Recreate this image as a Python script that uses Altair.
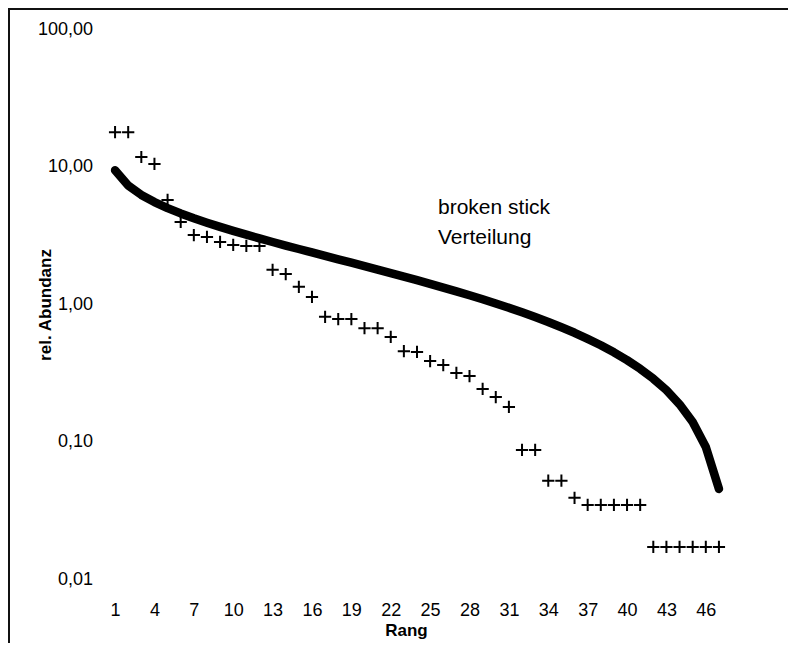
import altair as alt
import pandas as pd

ranks = list(range(1, 48))
abundance = [17.9, 17.9, 11.8, 10.5, 5.74, 3.97, 3.19, 3.09, 2.84, 2.70, 2.66, 2.66,
             1.78, 1.66, 1.34, 1.13, 0.81, 0.78, 0.78, 0.67, 0.67, 0.578, 0.455, 0.45,
             0.386, 0.361, 0.316, 0.30, 0.242, 0.211, 0.179, 0.087, 0.087, 0.052, 0.052,
             0.039, 0.0346, 0.0346, 0.0346, 0.0346, 0.0346,
             0.0171, 0.0171, 0.0171, 0.0171, 0.0171, 0.0171]
broken_stick = [9.443, 7.315, 6.251, 5.542, 5.010, 4.584, 4.230, 3.926, 3.660, 3.423,
                3.211, 3.017, 2.840, 2.676, 2.524, 2.382, 2.249, 2.124, 2.006, 1.894,
                1.788, 1.686, 1.590, 1.497, 1.409, 1.323, 1.242, 1.163, 1.087, 1.013,
                0.943, 0.874, 0.807, 0.743, 0.680, 0.620, 0.560, 0.503, 0.447, 0.392,
                0.339, 0.287, 0.237, 0.187, 0.139, 0.0915, 0.0453]
x_ticks = [1, 4, 7, 10, 13, 16, 19, 22, 25, 28, 31, 34, 37, 40, 43, 46]
y_ticks = [0.01, 0.1, 1, 10, 100]
note_lines = ["broken stick", "Verteilung"]
note_rank = [25.6, 25.6]
note_value = [5.02, 3.04]

df = pd.DataFrame({"rank": ranks, "abundance": abundance, "stick": broken_stick})
notes = pd.DataFrame({"rank": note_rank, "value": note_value, "text": note_lines})

FONT = "Liberation Sans"
W, H = 617, 549.5
PAD_L, PAD_T = 100.5, 21.5
TOTAL_W, TOTAL_H = 780, 635

x_scale = alt.Scale(domain=[0.5, 47.5], nice=False, zero=False)
y_scale = alt.Scale(type="log", domain=[0.01, 100], nice=False)

x_axis = alt.Axis(values=x_ticks, title="Rang", domain=False, ticks=False, grid=False,
                  labelFont=FONT, labelFontSize=18, labelColor="black", labelPadding=22,
                  labelFlush=False, labelOverlap=False,
                  titleFont=FONT, titleFontSize=17, titleFontWeight="bold", titleColor="black",
                  titleX=297.5, titleY=51, titleBaseline="middle", titleAnchor="start", titleAlign="center")
y_axis = alt.Axis(values=y_ticks, title="rel. Abundanz", domain=False, ticks=False, grid=False,
                  labelExpr="replace(format(datum.value, '.2f'), '.', ',')",
                  labelFont=FONT, labelFontSize=18, labelColor="black", labelPadding=16,
                  labelFlush=False, labelOverlap=False,
                  titleFont=FONT, titleFontSize=17, titleFontWeight="bold", titleColor="black",
                  titleX=-63, titleY=275, titleBaseline="middle", titleAngle=270, titleAlign="center")

points = alt.Chart(df).mark_point(
    shape="M-1,0H1M0,-1V1", size=150, filled=False, stroke="black", strokeWidth=2, opacity=1
).encode(
    x=alt.X("rank:Q", scale=x_scale, axis=x_axis),
    y=alt.Y("abundance:Q", scale=y_scale, axis=y_axis),
)

line = alt.Chart(df).mark_line(
    color="black", strokeWidth=8.5, strokeCap="round", strokeJoin="round"
).encode(
    x=alt.X("rank:Q", scale=x_scale, axis=x_axis),
    y=alt.Y("stick:Q", scale=y_scale, axis=y_axis),
)

text = alt.Chart(notes).mark_text(
    align="left", baseline="middle", font=FONT, fontSize=21, color="black"
).encode(
    x=alt.X("rank:Q", scale=x_scale, axis=x_axis),
    y=alt.Y("value:Q", scale=y_scale, axis=y_axis),
    text="text:N",
)

top_border = alt.Chart(df).mark_rule(color="#111111", strokeWidth=2).encode(
    x=alt.value(-PAD_L), x2=alt.value(TOTAL_W - PAD_L), y=alt.value(-PAD_T + 1)
)
left_border = alt.Chart(df).mark_rule(color="#111111", strokeWidth=2).encode(
    x=alt.value(-PAD_L + 1), y=alt.value(-PAD_T), y2=alt.value(TOTAL_H - PAD_T)
)

chart = alt.layer(line, points, text, top_border, left_border).properties(
    width=W, height=H,
    background="white",
    autosize=alt.AutoSizeParams(type="none"),
    padding={"left": PAD_L, "top": PAD_T, "right": TOTAL_W - PAD_L - W, "bottom": TOTAL_H - PAD_T - H},
).configure_view(strokeWidth=0)

chart.save("out.html", embed_options={"renderer": "svg", "actions": False})
